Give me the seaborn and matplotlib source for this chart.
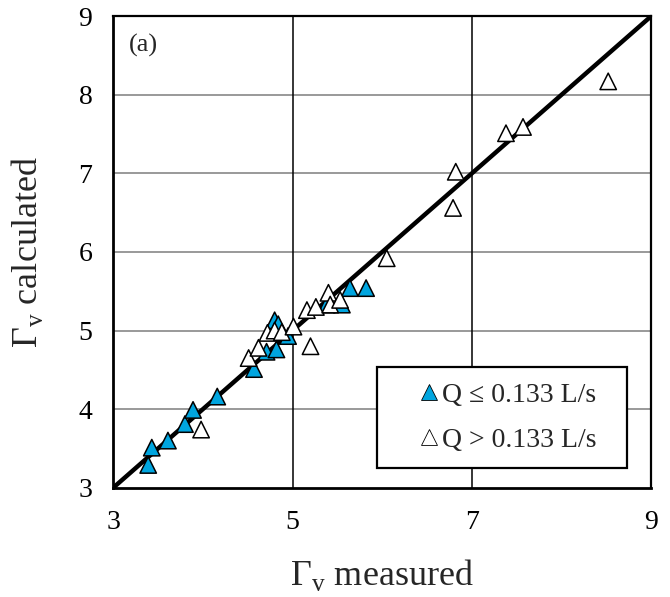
import matplotlib
matplotlib.use("Agg")
import matplotlib.pyplot as plt
from matplotlib.patches import Rectangle
import numpy as np
import pandas as pd
import seaborn as sns

# points avec Q <= 0.133 L/s (triangles bleus)
low_meas = [3.39, 3.43, 3.61, 3.80, 3.89, 4.16, 4.57, 4.71, 4.82, 4.80, 4.84, 4.95, 5.38, 5.55, 5.64, 5.82]
low_calc = [3.29, 3.51, 3.60, 3.81, 3.99, 4.16, 4.51, 4.73, 4.76, 5.13, 5.08, 4.93, 5.33, 5.33, 5.54, 5.54]

# points avec Q > 0.133 L/s (triangles blancs)
high_meas = [3.98, 4.51, 4.62, 4.72, 4.80, 4.88, 5.01, 5.20, 5.16, 5.26, 5.40, 5.42, 5.53,
             6.05, 6.79, 6.82, 7.38, 7.57, 8.52]
high_calc = [3.74, 4.65, 4.78, 4.97, 5.00, 4.98, 5.05, 4.80, 5.26, 5.30, 5.48, 5.33, 5.39,
             5.92, 6.56, 7.02, 7.51, 7.59, 8.17]

label_low = "Q \u2264 0.133 L/s"
label_high = "Q > 0.133 L/s"

ticks = [3, 5, 7, 9]
yticks = [3, 4, 5, 6, 7, 8, 9]

# les triangles blancs sont dessinés par-dessus les bleus
df = pd.DataFrame({
    "measured": low_meas + high_meas,
    "calculated": low_calc + high_calc,
    "groupe": [label_low] * len(low_meas) + [label_high] * len(high_meas),
})

bleu = "#00a5df"

sns.set_style("white")
plt.rcParams["font.family"] = ["Liberation Serif", "DejaVu Serif"]
plt.rcParams["mathtext.fontset"] = "custom"
plt.rcParams["mathtext.rm"] = "Liberation Serif"

fig = plt.figure(figsize=(6.7, 5.97), dpi=100)
ax = fig.add_axes([0.169, 0.183, 0.803, 0.790])

# grille : horizontale grise, verticale noire
for y in yticks[1:-1]:
    ax.axhline(y, color="#999999", lw=1.4, zorder=0)
for x in ticks[1:-1]:
    ax.axvline(x, color="black", lw=1.1, zorder=0)

ax.plot([3, 9], [3, 9], color="black", lw=3.2, zorder=1)

sns.scatterplot(data=df, x="measured", y="calculated", hue="groupe", marker="^",
                palette={label_low: bleu, label_high: "white"},
                hue_order=[label_low, label_high],
                s=140, edgecolor="black", linewidth=1.1, ax=ax, zorder=3, legend=False)

ax.set_xlim(3, 9)
ax.set_ylim(3, 9)
ax.set_xticks(ticks)
ax.set_yticks(yticks)
ax.tick_params(axis="both", direction="out", length=7, width=1.5, labelsize=20, colors="black")
ax.tick_params(axis="x", pad=9)
ax.tick_params(axis="y", pad=8)
for s in ax.spines.values():
    s.set_color("black")
    s.set_linewidth(1.6)
ax.spines["bottom"].set_linewidth(2)
ax.spines["left"].set_linewidth(2)

ax.set_xlabel(r"$\Gamma_\mathrm{v}$ measured", fontsize=26, labelpad=16)
ax.set_ylabel(r"$\Gamma_\mathrm{v}$ calculated", fontsize=26, labelpad=24)
ax.text(0.03, 0.925, "(a)", transform=ax.transAxes, fontsize=19)

# cadre de la légende
ax.add_patch(Rectangle((0.491, 0.042), 0.464, 0.214, transform=ax.transAxes,
                       facecolor="white", edgecolor="black", lw=1.6, zorder=4))

handles = [
    plt.Line2D([], [], marker="^", ls="", markersize=11.5, markerfacecolor=bleu,
               markeredgecolor="black", markeredgewidth=0.6, label=label_low),
    plt.Line2D([], [], marker="^", ls="", markersize=11.5, markerfacecolor="white",
               markeredgecolor="black", markeredgewidth=0.6, label=label_high),
]
leg = ax.legend(handles=handles, loc="center", bbox_to_anchor=(0.735, 0.149),
                fontsize=20, frameon=False, handlelength=0.6,
                handletextpad=0.15, labelspacing=0.7, borderpad=0, borderaxespad=0)
leg.set_zorder(5)

fig.savefig("out.png", dpi=100)
